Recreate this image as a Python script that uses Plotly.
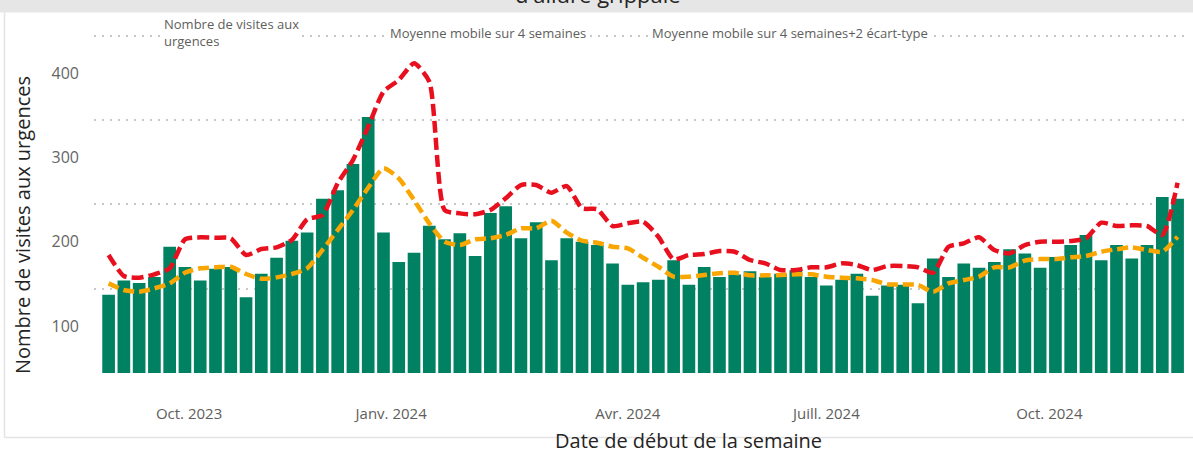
import plotly.graph_objects as go

# ---------------- data ----------------
series_names = [
    "Nombre de visites aux urgences",
    "Moyenne mobile sur 4 semaines",
    "Moyenne mobile sur 4 semaines+2 écart-type",
]

visits = [137, 154, 151, 158, 194, 170, 154, 168, 170, 134,
          162, 181, 201, 211, 251, 261, 292, 348, 211, 176,
          187, 219, 203, 210, 183, 234, 242, 204, 223, 178,
          204, 200, 196, 174, 149, 152, 155, 178, 149, 170,
          158, 161, 165, 158, 162, 166, 158, 148, 155, 162,
          136, 148, 149, 127, 180, 158, 174, 169, 176, 191,
          186, 169, 182, 196, 208, 178, 196, 180, 196, 253,
          251]

moving_avg_4w = [150.6, 142.7, 140.7, 144.7, 150.6, 163.2, 168.4, 169.6, 170.3, 161.7,
                 156.1, 157.7, 161.7, 168.4, 190.1, 213.8, 237.6, 264.0, 287.0, 275.0,
                 249.4, 221.7, 200.0, 196.0, 202.8, 204.0, 207.9, 215.9, 215.9, 224.9,
                 210.7, 201.2, 198.8, 194.0, 192.1, 181.0, 170.3, 158.5, 158.5, 160.5,
                 162.5, 163.2, 160.1, 160.1, 160.5, 161.3, 161.3, 158.5, 157.3, 156.6,
                 154.5, 149.4, 149.4, 148.6, 140.7, 150.6, 154.5, 158.5, 169.6, 169.6,
                 177.5, 179.4, 179.4, 181.5, 183.0, 188.1, 191.0, 193.3, 190.1, 188.1,
                 205.9]

moving_avg_plus_2sd = [184.2, 159.3, 157.3, 161.3, 168.4, 202.8, 205.2, 204.7, 204.0, 184.2,
                       191.3, 193.3, 202.0, 226.5, 231.6, 269.3, 296.8, 336.3, 377.9, 391.7,
                       411.5, 389.8, 237.6, 233.6, 232.5, 237.6, 251.4, 267.2, 267.2, 258.1,
                       266.0, 239.6, 238.4, 218.6, 221.8, 223.7, 205.9, 179.0, 184.2, 185.4,
                       188.9, 188.1, 178.3, 174.3, 166.4, 166.4, 169.6, 169.6, 174.3, 172.3,
                       166.4, 171.1, 171.1, 169.6, 163.2, 194.0, 198.1, 205.2, 190.1, 186.2,
                       196.0, 200.0, 200.0, 200.8, 204.0, 222.5, 218.6, 219.4, 218.6, 207.9,
                       270.0]

tick_labels = ["Oct. 2023", "Janv. 2024", "Avr. 2024", "Juill. 2024", "Oct. 2024"]
tick_week_positions = [5.27, 18.5, 34.0, 47.0, 61.6]

y_tick_values = [100, 200, 300, 400]

x_title = "Date de début de la semaine"
y_title = "Nombre de visites aux urgences"
chart_title = "d'allure grippale"

# ---------------- styling ----------------
GREEN = "#008262"
ORANGE = "#F9A602"
RED = "#E8101E"
FONT = "Open Sans, Noto Sans, sans-serif"

weeks = list(range(len(visits)))

fig = go.Figure()
fig.add_trace(go.Bar(
    x=weeks, y=visits, name=series_names[0],
    marker=dict(color=GREEN, line=dict(width=0)),
    showlegend=False,
))
fig.add_trace(go.Scatter(
    x=weeks, y=moving_avg_4w, name=series_names[1], mode="lines",
    line=dict(color=ORANGE, width=4.5, dash="11px,5px", shape="spline", smoothing=0.6),
    showlegend=False,
))
fig.add_trace(go.Scatter(
    x=weeks, y=moving_avg_plus_2sd, name=series_names[2], mode="lines",
    line=dict(color=RED, width=4.5, dash="12px,5px", shape="spline", smoothing=0.6),
    showlegend=False,
))

# pixel helpers for paper coordinates (plot area: x 94..1184, y 28..373)
L, R, T, B = 94, 1184, 28, 373
def px(x):
    return (x - L) / (R - L)
def py(y):
    return (B - y) / (B - T)

legend_font = dict(family=FONT, size=13, color="#605E5C")

annotations = [
    dict(text=chart_title, xref="paper", yref="paper", x=px(598), y=py(11),
         xanchor="center", yanchor="bottom", showarrow=False,
         font=dict(family=FONT, size=22, color="#252423")),
    dict(text=y_title, xref="paper", yref="paper", x=px(22), y=py(225),
         xanchor="center", yanchor="middle", textangle=-90, showarrow=False,
         font=dict(family=FONT, size=20, color="#252423")),
    dict(text=x_title, xref="paper", yref="paper", x=px(689), y=py(440),
         xanchor="center", yanchor="middle", showarrow=False,
         font=dict(family=FONT, size=20, color="#252423")),
    dict(text="Nombre de visites aux<br>urgences", xref="paper", yref="paper",
         x=px(162), y=py(32.5), xanchor="left", yanchor="middle", align="left",
         showarrow=False, bgcolor="white", font=legend_font),
    dict(text=series_names[1], xref="paper", yref="paper",
         x=px(388), y=py(33.5), xanchor="left", yanchor="middle",
         showarrow=False, bgcolor="white", font=legend_font),
    dict(text=series_names[2], xref="paper", yref="paper",
         x=px(650), y=py(33.5), xanchor="left", yanchor="middle",
         showarrow=False, bgcolor="white", font=legend_font),
]

shapes = [
    # grey header band
    dict(type="rect", xref="paper", yref="paper", x0=px(-5), x1=px(1200),
         y0=py(12.5), y1=py(-5), fillcolor="#E6E6E6", line=dict(width=0), layer="below"),
    # card borders
    dict(type="line", xref="paper", yref="paper", x0=px(4.5), x1=px(4.5),
         y0=py(12.5), y1=py(437.5), line=dict(color="#E3E3E3", width=1.5)),
    dict(type="line", xref="paper", yref="paper", x0=px(4.5), x1=px(1200),
         y0=py(437.5), y1=py(437.5), line=dict(color="#E3E3E3", width=1.5)),
]

fig.update_layout(
    width=1193, height=452,
    margin=dict(l=L, r=1193 - R, t=T, b=452 - B, autoexpand=False),
    paper_bgcolor="white", plot_bgcolor="white",
    bargap=0.17,
    font=dict(family=FONT),
    annotations=annotations,
    shapes=shapes,
    showlegend=False,
)
fig.update_xaxes(
    range=[-0.956, 70.42],
    tickmode="array", tickvals=tick_week_positions, ticktext=tick_labels,
    showgrid=False, zeroline=False, showline=False, ticks="",
    tickfont=dict(family=FONT, size=15, color="#605E5C"),
    ticklabelstandoff=30,
    automargin=False,
)
fig.update_yaxes(
    range=[44.3, 453.4],
    tickmode="array", tickvals=y_tick_values,
    showgrid=False, zeroline=False, showline=False, ticks="",
    tickfont=dict(family=FONT, size=16, color="#666666"),
    ticklabelstandoff=14,
    minor=dict(tick0=44.3, dtick=100, showgrid=True, gridcolor="#C8C8C8",
               griddash="2px,6px", gridwidth=1.5, ticks=""),
    automargin=False,
)

fig.write_html("out.html", config={"displayModeBar": False},
               post_script="document.body.style.margin='0';")
